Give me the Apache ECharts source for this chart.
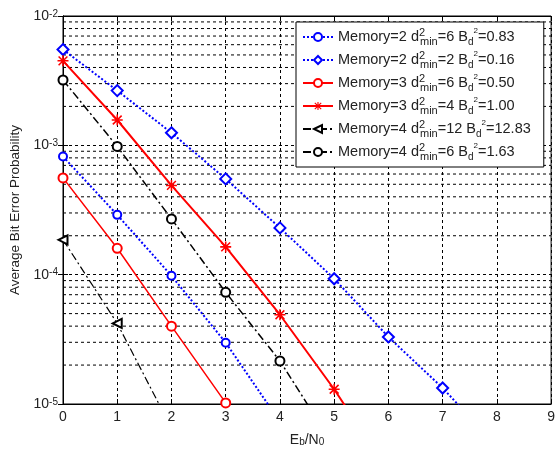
<!DOCTYPE html>
<html>
<head>
<meta charset="utf-8">
<script src="https://cdn.jsdelivr.net/npm/echarts@6/dist/echarts.min.js"></script>
<style>
  html, body { margin: 0; padding: 0; background: #fff; }
  #chart { width: 558px; height: 452px; }
</style>
</head>
<body>
<div id="chart"></div>
<script>
// x = Eb/N0
var ebn0 = [0, 1, 2, 3, 4, 5, 6, 7, 8];
var mem2_d6 = [8.2e-4, 2.9e-4, 9.8e-5, 2.98e-5, 7.3e-6];
var mem2_d2 = [5.5e-3, 2.65e-3, 1.25e-3, 5.5e-4, 2.3e-4, 9.3e-5, 3.3e-5, 1.33e-5, 4.7e-6];
var mem3_d6 = [5.6e-4, 1.6e-4, 4.0e-5, 1.02e-5, 2.4e-6];
var mem3_d4 = [4.5e-3, 1.57e-3, 4.9e-4, 1.64e-4, 4.9e-5, 1.3e-5, 3.0e-6];
var mem4_d12 = [1.86e-4, 4.2e-5, 6.5e-6];
var mem4_d6 = [3.2e-3, 9.8e-4, 2.7e-4, 7.3e-5, 2.15e-5, 4.7e-6];

var memory = ['2', '2', '3', '3', '4', '4'];
var dmin = ['6', '2', '6', '4', '12', '6'];
var bd = ['0.83', '0.16', '0.50', '1.00', '12.83', '1.63'];
var yTicks = [1e-5, 1e-4, 1e-3, 1e-2];

var names = memory.map(function (m, i) {
  return 'Memory=' + m + ' d2min=' + dmin[i] + ' Bd2=' + bd[i];
});

function pairs(arr) {
  return arr.map(function (v, i) { return [ebn0[i], v]; });
}

// minor log grid lines 2..9 x 10^k
var minorLines = [];
for (var k = 0; k < 3; k++) {
  for (var m = 2; m <= 9; m++) {
    minorLines.push([0, m * yTicks[k]]);
  }
}

var starPath = 'path://M4.3,0L5.7,0L5.7,10L4.3,10Z M0,4.3L10,4.3L10,5.7L0,5.7Z M1.5,0.5L9.5,8.5L8.5,9.5L0.5,1.5Z M8.5,0.5L9.5,1.5L1.5,9.5L0.5,8.5Z';
var dashDot = [8, 3, 2, 3];
var gridDash = [3, 3];
var txt = '#222';

var myChart = echarts.init(document.getElementById('chart'));

var option = {
  animation: false,
  textStyle: { fontFamily: 'Liberation Sans' },
  grid: {
    left: 63, right: 4, top: 16, bottom: 47,
    show: true, borderColor: '#000', borderWidth: 1, backgroundColor: '#fff'
  },
  legend: {
    orient: 'vertical',
    left: 296, top: 22,
    padding: [5, 13, 5, 6],
    itemGap: 3,
    itemWidth: 30, itemHeight: 10,
    backgroundColor: '#fff',
    borderColor: '#000', borderWidth: 1,
    data: names,
    formatter: function (name) {
      var i = names.indexOf(name);
      return '{t|Memory=' + memory[i] + ' d}{sup|2}{sub|min}{t|=' + dmin[i] + ' B}{bs|d}{bss|2}{t|=' + bd[i] + '}';
    },
    textStyle: {
      color: txt,
      fontSize: 14.5,
      rich: {
        t: { fontSize: 14.5, lineHeight: 20, color: txt },
        sup: { fontSize: 11, lineHeight: 10, verticalAlign: 'top', width: 1, color: txt },
        sub: { fontSize: 11, lineHeight: 10, verticalAlign: 'bottom', color: txt },
        bs: { fontSize: 10, lineHeight: 9, verticalAlign: 'bottom', color: txt },
        bss: { fontSize: 8, lineHeight: 16, verticalAlign: 'top', color: txt }
      }
    }
  },
  xAxis: [{
    type: 'value',
    min: 0, max: 9, interval: 1,
    name: '{t|E}{s|b}{t|/N}{s|0}',
    nameLocation: 'middle',
    nameGap: 29,
    nameTextStyle: {
      rich: {
        t: { fontSize: 14, color: txt },
        s: { fontSize: 10, color: txt, verticalAlign: 'bottom', lineHeight: 8 }
      }
    },
    axisLine: { lineStyle: { color: '#000' } },
    axisTick: { inside: true, length: 5, lineStyle: { color: '#000' } },
    axisLabel: { fontSize: 14, color: txt, margin: 6 },
    splitLine: { show: true, lineStyle: { color: '#000', type: gridDash } }
  }, {
    type: 'value', position: 'top',
    min: 0, max: 9, interval: 1,
    axisLine: { lineStyle: { color: '#000' } },
    axisTick: { inside: true, length: 5, lineStyle: { color: '#000' } },
    axisLabel: { show: false },
    splitLine: { show: false }
  }],
  yAxis: [{
    type: 'log',
    logBase: 10,
    min: 1e-5, max: 1e-2,
    name: 'Average Bit Error Probability',
    nameLocation: 'middle',
    nameGap: 37,
    nameTextStyle: { fontSize: 13.5, color: txt },
    axisLine: { lineStyle: { color: '#000' } },
    axisTick: { inside: true, length: 5, lineStyle: { color: '#000' } },
    axisLabel: {
      margin: 5,
      formatter: function (v) {
        return '{b|10}{s|' + Math.round(Math.log10(v)) + '}';
      },
      rich: {
        b: { fontSize: 14, color: txt },
        s: { fontSize: 10, color: txt, verticalAlign: 'top', lineHeight: 10 }
      }
    },
    splitLine: { show: true, lineStyle: { color: '#000', type: gridDash } }
  }, {
    type: 'log', logBase: 10, position: 'right',
    min: 1e-5, max: 1e-2,
    axisLine: { lineStyle: { color: '#000' } },
    axisTick: { inside: true, length: 5, lineStyle: { color: '#000' } },
    axisLabel: { show: false },
    splitLine: { show: false }
  }],
  series: [
    {
      // minor log grid lines
      type: 'custom', silent: true, z: 1,
      data: minorLines,
      renderItem: function (params, api) {
        var y = api.coord([0, api.value(1)])[1];
        var cs = params.coordSys;
        return {
          type: 'line',
          shape: { x1: cs.x, y1: y, x2: cs.x + cs.width, y2: y },
          style: { stroke: '#000', lineWidth: 1, lineDash: gridDash }
        };
      }
    },
    {
      name: names[0], type: 'line', data: pairs(mem2_d6),
      color: '#0000ff',
      symbol: 'emptyCircle', symbolSize: 8,
      itemStyle: { borderWidth: 2 },
      lineStyle: { width: 2, type: 'dotted' }
    },
    {
      name: names[1], type: 'line', data: pairs(mem2_d2),
      color: '#0000ff',
      symbol: 'emptyDiamond', symbolSize: 11,
      itemStyle: { borderWidth: 2 },
      lineStyle: { width: 2, type: 'dotted' }
    },
    {
      name: names[2], type: 'line', data: pairs(mem3_d6),
      color: '#ff0000',
      symbol: 'emptyCircle', symbolSize: 9,
      itemStyle: { borderWidth: 1.5 },
      lineStyle: { width: 1.5, type: 'solid' }
    },
    {
      name: names[3], type: 'line', data: pairs(mem3_d4),
      color: '#ff0000',
      symbol: starPath, symbolSize: 11,
      lineStyle: { width: 2, type: 'solid' }
    },
    {
      name: names[4], type: 'line', data: pairs(mem4_d12),
      color: '#000000',
      symbol: 'emptyTriangle', symbolSize: 9, symbolRotate: 90,
      itemStyle: { borderWidth: 1.5 },
      lineStyle: { width: 1.2, type: dashDot }
    },
    {
      name: names[5], type: 'line', data: pairs(mem4_d6),
      color: '#000000',
      symbol: 'emptyCircle', symbolSize: 9,
      itemStyle: { borderWidth: 1.5 },
      lineStyle: { width: 1.5, type: dashDot }
    }
  ]
};

myChart.setOption(option);
window.addEventListener('resize', function () {
  myChart.resize();
});
</script>
</body>
</html>
